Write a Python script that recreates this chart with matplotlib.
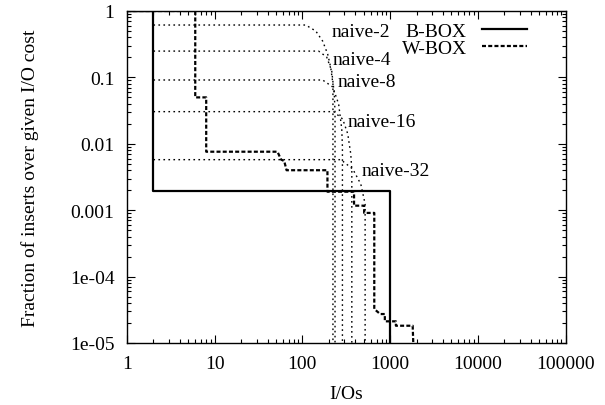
import matplotlib
matplotlib.use("Agg")
import matplotlib.pyplot as plt
from matplotlib.ticker import LogLocator, FixedLocator, NullFormatter

plt.rcParams['font.family'] = ['Liberation Serif', 'DejaVu Serif']
FS = 14

# B-BOX: solid step curve (I/Os, fraction)
bbox_io = [1, 2, 2, 1000, 1000]
bbox_frac = [1, 1, 0.00195, 0.00195, 1e-6]

# W-BOX: dashed step curve
wbox_io = [1, 6, 6, 8, 8, 52, 57, 62, 66, 193, 193, 388, 388, 506, 506,
           660, 660, 771, 871, 871, 1164, 1164, 1809, 1950]
wbox_frac = [1, 1, 0.05, 0.05, 0.0076, 0.0076, 0.0058, 0.0055, 0.0040, 0.0040,
             0.0019, 0.0019, 0.00117, 0.00117, 0.00091, 0.00091, 3.25e-5,
             2.73e-5, 2.73e-5, 2.12e-5, 2.12e-5, 1.82e-5, 1.82e-5, 1e-6]

# naive-k curves (dotted)
naive_names = ['naive-2', 'naive-4', 'naive-8', 'naive-16', 'naive-32']
naive_io = [
    [2, 109, 142, 170, 194, 210, 223, 223],
    [2, 153, 189, 216, 231, 235.5, 235.5],
    [2, 170, 222, 259, 281, 286, 286],
    [2, 227, 288, 329, 356, 366, 366],
    [2, 274, 375, 463, 519, 519],
]
naive_frac = [
    [0.615, 0.615, 0.5, 0.353, 0.225, 0.143, 0.0796, 1e-6],
    [0.249, 0.249, 0.203, 0.125, 0.0562, 0.03, 1e-6],
    [0.0914, 0.0914, 0.0717, 0.0396, 0.0167, 0.009, 1e-6],
    [0.0305, 0.0305, 0.0236, 0.0141, 0.00702, 0.004, 1e-6],
    [0.00577, 0.00577, 0.00417, 0.00248, 0.00124, 1e-6],
]
# label anchor points (left edge, baseline) for naive curves
label_io = [216, 222, 251, 326, 476]
label_frac = [0.425, 0.159, 0.075, 0.0187, 0.00339]

fig = plt.figure(figsize=(6.05, 4.06), dpi=100)
ax = fig.add_axes([127 / 605, 1 - 344 / 406, 438.5 / 605, 332 / 406])

for xs, ys in zip(naive_io, naive_frac):
    ax.plot(xs, ys, color='black', lw=1.0, linestyle=(0, (1.2, 2.4)))

ax.plot(bbox_io, bbox_frac, color='black', lw=1.6, label='B-BOX')
ax.plot(wbox_io, wbox_frac, color='black', lw=1.6, linestyle=(0, (1.8, 1.0)),
        label='W-BOX')

for name, lx, ly in zip(naive_names, label_io, label_frac):
    ax.text(lx, ly, name, fontsize=FS, ha='left', va='baseline')

ax.set_xscale('log')
ax.set_yscale('log')
ax.set_xlim(1, 100000)
ax.set_ylim(1e-5, 1)

xt = [1, 10, 100, 1000, 10000, 100000]
ax.xaxis.set_major_locator(FixedLocator(xt))
ax.set_xticklabels([str(v) for v in xt])
yt = [1e-5, 1e-4, 1e-3, 1e-2, 1e-1, 1]
ax.yaxis.set_major_locator(FixedLocator(yt))
ax.set_yticklabels(['1e-05', '1e-04', '0.001', '0.01', '0.1', '1'])
for axis in (ax.xaxis, ax.yaxis):
    axis.set_minor_locator(LogLocator(base=10, subs=range(2, 10), numticks=20))
    axis.set_minor_formatter(NullFormatter())

ax.tick_params(which='both', direction='in', top=True, right=True,
               labelsize=FS)
ax.tick_params(axis='y', pad=9)
ax.tick_params(axis='x', pad=9)
ax.tick_params(which='major', length=6, width=0.8)
ax.tick_params(which='minor', length=3, width=0.8)
for s in ax.spines.values():
    s.set_linewidth(1.0)

ax.set_xlabel('I/Os', fontsize=FS, labelpad=9)
ax.set_ylabel('Fraction of inserts over given I/O cost', fontsize=FS, labelpad=22)

ax.legend(loc='upper right', bbox_to_anchor=(527 / 605, 1 - 23 / 406),
          bbox_transform=fig.transFigure, frameon=False, fontsize=FS,
          markerfirst=False, handlelength=2.3, handletextpad=0.8,
          labelspacing=0.0, borderaxespad=0, borderpad=0)

fig.savefig('out.png', dpi=100)
